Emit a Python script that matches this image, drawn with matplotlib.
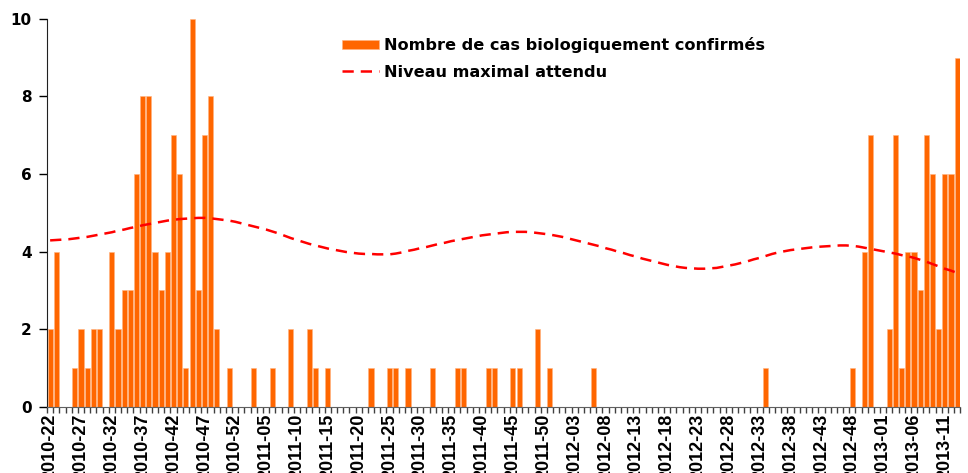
import numpy as np
import matplotlib.pyplot as plt

plt.rcParams['font.family'] = ['Liberation Sans', 'DejaVu Sans']

# weeks 2010-22 .. 2013-13
weeks = []
for year, first, last in [(2010, 22, 52), (2011, 1, 52), (2012, 1, 52), (2013, 1, 13)]:
    for w in range(first, last + 1):
        weeks.append('%d-%02d' % (year, w))

# weekly confirmed cases
cases = [2, 4, 0, 0, 1, 2, 1, 2, 2, 0,
         4, 2, 3, 3, 6, 8, 8, 4, 3, 4,
         7, 6, 1, 10, 3, 7, 8, 2, 0, 1,
         0, 0, 0, 1, 0, 0, 1, 0, 0, 2,
         0, 0, 2, 1, 0, 1, 0, 0, 0, 0,
         0, 0, 1, 0, 0, 1, 1, 0, 1, 0,
         0, 0, 1, 0, 0, 0, 1, 1, 0, 0,
         0, 1, 1, 0, 0, 1, 1, 0, 0, 2,
         0, 1, 0, 0, 0, 0, 0, 0, 1, 0,
         0, 0, 0, 0, 0, 0, 0, 0, 0, 0,
         0, 0, 0, 0, 0, 0, 0, 0, 0, 0,
         0, 0, 0, 0, 0, 0, 1, 0, 0, 0,
         0, 0, 0, 0, 0, 0, 0, 0, 0, 0,
         1, 0, 4, 7, 0, 0, 2, 7, 1, 4,
         4, 3, 7, 6, 2, 6, 6, 9]

# expected maximum level (dashed curve)
seuil = [4.29, 4.30, 4.31, 4.32, 4.34, 4.36, 4.38, 4.41, 4.44, 4.47,
         4.50, 4.54, 4.57, 4.61, 4.64, 4.68, 4.71, 4.74, 4.77, 4.80,
         4.82, 4.84, 4.85, 4.86, 4.87, 4.87, 4.86, 4.84, 4.82, 4.80,
         4.77, 4.73, 4.69, 4.65, 4.61, 4.57, 4.52, 4.47, 4.41, 4.35,
         4.30, 4.25, 4.20, 4.16, 4.12, 4.08, 4.05, 4.02, 3.99, 3.97,
         3.95, 3.94, 3.94, 3.93, 3.93, 3.93, 3.95, 3.98, 4.02, 4.05,
         4.09, 4.12, 4.16, 4.20, 4.23, 4.27, 4.30, 4.33, 4.36, 4.39,
         4.42, 4.44, 4.46, 4.48, 4.50, 4.51, 4.51, 4.51, 4.50, 4.48,
         4.46, 4.44, 4.41, 4.38, 4.34, 4.30, 4.26, 4.22, 4.18, 4.14,
         4.09, 4.05, 4.00, 3.96, 3.91, 3.87, 3.82, 3.78, 3.74, 3.70,
         3.66, 3.63, 3.60, 3.58, 3.57, 3.56, 3.56, 3.57, 3.58, 3.61,
         3.64, 3.67, 3.71, 3.75, 3.80, 3.84, 3.89, 3.94, 3.98, 4.01,
         4.04, 4.06, 4.08, 4.10, 4.12, 4.13, 4.14, 4.15, 4.16, 4.16,
         4.15, 4.13, 4.10, 4.07, 4.04, 4.01, 3.98, 3.95, 3.91, 3.88,
         3.84, 3.79, 3.74, 3.68, 3.62, 3.56, 3.51, 3.45]

x = np.arange(len(weeks))

fig = plt.figure(figsize=(9.68, 4.73), dpi=100)
ax = fig.add_axes([0.0486, 0.140, 0.9434, 0.820])

bars = ax.bar(x, cases, width=0.82, color='#ff6600', edgecolor='#ffb27f', linewidth=0.4,
              zorder=2)
line, = ax.plot(x, seuil, color='#ff0000', linestyle=(0, (4.5, 2.8)), linewidth=1.8,
                zorder=3)

ax.set_xlim(-0.5, len(weeks) - 0.5)
ax.set_ylim(0, 10)
ax.set_yticks(range(0, 11, 2))
ax.set_yticklabels([str(v) for v in range(0, 11, 2)], family='DejaVu Sans',
                   fontweight='bold', fontsize=11)
ax.tick_params(axis='y', length=6, width=1, direction='out', pad=5)

ax.set_xticks(x[::5])
ax.set_xticklabels(weeks[::5], rotation=90, fontsize=13, fontweight='bold')
ax.set_xticks(np.arange(-0.5, len(weeks), 1), minor=True)
ax.tick_params(axis='x', which='major', length=0, pad=5)
ax.tick_params(axis='x', which='minor', length=4, width=1, color='#404040')

ax.spines['top'].set_visible(False)
ax.spines['right'].set_visible(False)
ax.spines['left'].set_color('#202020')
ax.spines['bottom'].set_color('#606060')

leg = ax.legend([bars, line],
                ['Nombre de cas biologiquement confirmés', 'Niveau maximal attendu'],
                loc='upper left', bbox_to_anchor=(0.3075, 0.99), frameon=False,
                prop={'family': 'DejaVu Sans', 'size': 11.6, 'weight': 'bold'},
                handlelength=2.3, handleheight=0.55, labelspacing=0.7,
                handletextpad=0.3)

fig.savefig('out.png', dpi=100)
